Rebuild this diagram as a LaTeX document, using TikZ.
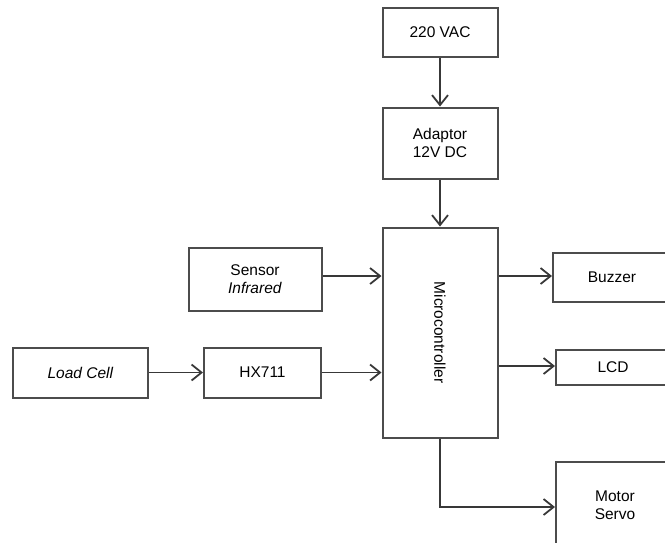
\documentclass[tikz,border=0pt]{standalone}
\usepackage{fontspec}
\setmainfont{Liberation Sans}
\usetikzlibrary{arrows.meta,calc,positioning}

\begin{document}
\begin{tikzpicture}[x=1pt,y=-1pt,
    blok/.style={draw=black!70, line width=2pt, fill=white, align=center,
      inner sep=0pt, font=\fontsize{15.5}{18}\selectfont},
    panah/.style={draw=black!78, line width=1.8pt,
      -{Straight Barb[length=10pt,width=16pt,line width=1.8pt]}}]
  % Page frame (reference size)
  \useasboundingbox (0,0) rectangle (665,542);
  \clip (0,0) rectangle (665,542);

  % Power supply chain
  \node[blok, minimum width=115pt, minimum height=49pt] (vac) at (440,32.5) {220 VAC};
  \node[blok, minimum width=115pt, minimum height=71pt] (adaptor) at (440,143) {Adaptor\\12V DC};

  % Controller
  \node[blok, minimum width=115pt, minimum height=210pt] (micro) at (440,332.5) {};
  \node[rotate=-90, font=\fontsize{15.5}{18}\selectfont] (microtxt) at (micro.center) {Microcontroller};

  % Inputs
  \node[blok, minimum width=133pt, minimum height=63pt] (sensor) at (255,279) {Sensor\\\textit{Infrared}};
  \node[blok, minimum width=135pt, minimum height=50pt] (loadcell) at (80.5,372.5) {\textit{Load Cell}};
  \node[blok, minimum width=117pt, minimum height=50pt] (hx) at (262.5,372.5) {HX711};

  % Outputs (cut at the right edge)
  \node[blok, minimum width=118pt, minimum height=49pt] (buzzer) at (612,277) {Buzzer};
  \node[blok, minimum width=114pt, minimum height=35pt] (lcd) at (613,367) {LCD};
  \node[blok, minimum width=118pt, minimum height=86pt] (motor) at (615,505) {Motor\\Servo};

  % Connections
  \draw[panah] (vac) -- (adaptor);
  \draw[panah] (adaptor) -- (micro);
  \draw[panah] ([yshift=3pt]sensor.east) -- ([yshift=3pt]sensor.east -| micro.west);
  \draw[panah] (loadcell) -- (hx);
  \draw[panah] (hx) -- (hx -| micro.west);
  \draw[panah] ([yshift=1pt]buzzer.west -| micro.east) -- ([yshift=1pt]buzzer.west);
  \draw[panah] ([yshift=1pt]lcd.west -| micro.east) -- ([yshift=1pt]lcd.west);
  \draw[panah] (micro.south) |- ([yshift=-2pt]motor.west);
\end{tikzpicture}
\end{document}
